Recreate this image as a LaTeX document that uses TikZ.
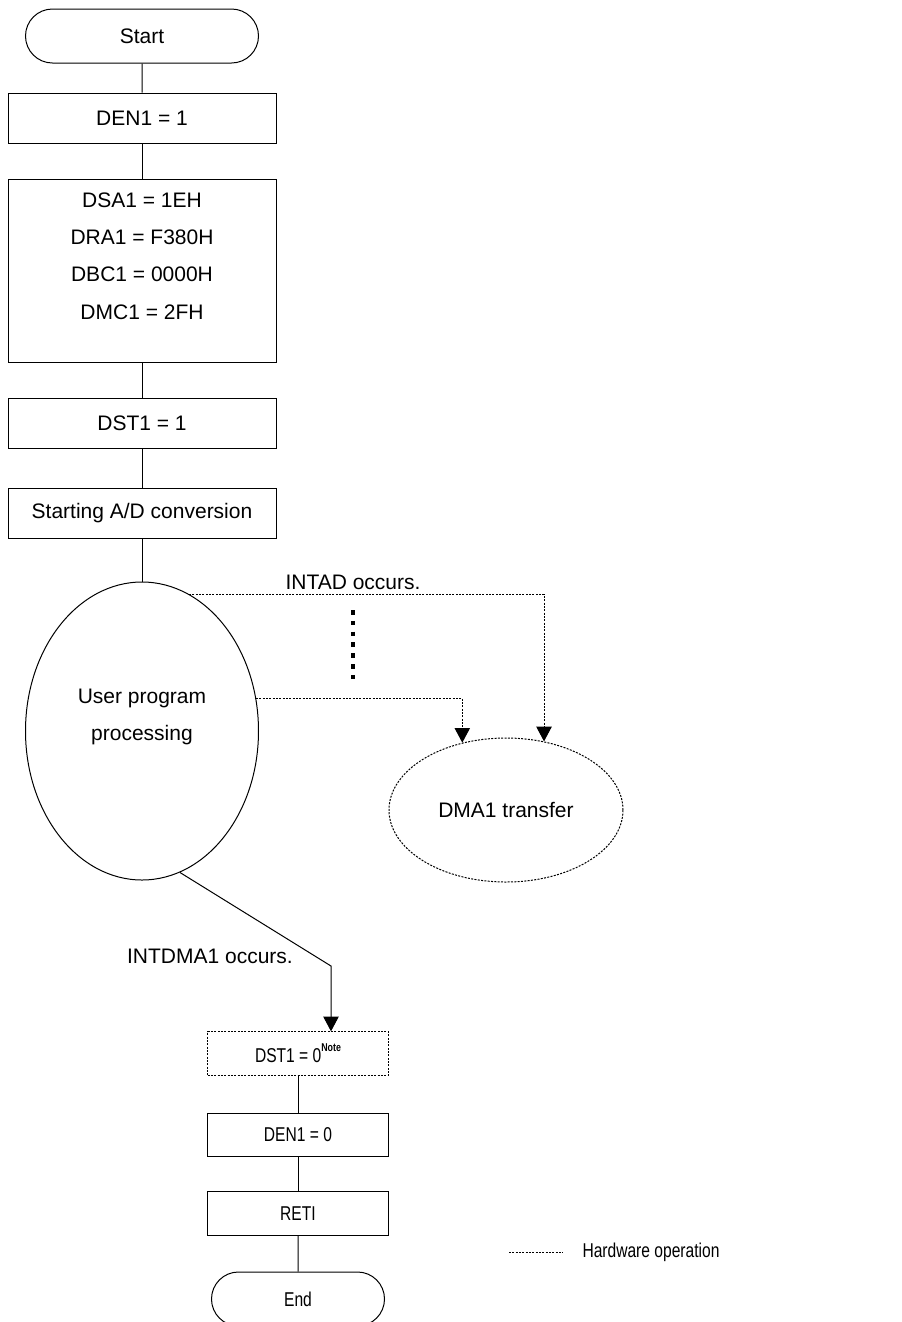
\documentclass[tikz,border=0pt]{standalone}
\usepackage{fontspec}
\setmainfont{Liberation Sans}
\newfontfamily\narrowfont[FakeStretch=0.78]{Liberation Sans}
\usetikzlibrary{shapes.geometric,shapes.misc,arrows.meta}

\begin{document}
\begin{tikzpicture}[x=0.75pt, y=-0.75pt, line width=0.75pt,
  every node/.style={font=\fontsize{15.75}{28}\selectfont, inner sep=0pt},
  term/.style={draw, rounded rectangle, minimum width=174.75pt, minimum height=40.5pt},
  box/.style={draw, rectangle, minimum width=201pt, minimum height=37.5pt},
  lowbox/.style={draw, rectangle, minimum width=135.75pt, minimum height=32.5pt, font=\narrowfont\fontsize{15}{18}\selectfont},
  hw/.style={dash pattern=on 1.5pt off 1pt},
  arr/.style={-{Triangle[width=11.5pt,length=11pt]}}]
  \useasboundingbox (0,0) rectangle (902,1322);
  \node[term] (start) at (142,36) {Start};
  \node[box] (den1) at (142,118) {DEN1 = 1};
  \node[box, minimum height=137.25pt] (regs) at (142,270.5) {};
  \node[anchor=north, align=center] at (142,192) {DSA1 = 1EH\\DRA1 = F380H\\DBC1 = 0000H\\DMC1 = 2FH};
  \node[box] (dst1) at (142,423.5) {DST1 = 1};
  \node[box] (adc) at (142,513) {Starting A/D conversion};
  \node[draw, ellipse, minimum width=174.75pt, minimum height=223.5pt] (user) at (142,731) {};
  \node[align=center] at (142,717) {User program\\processing};
  \node[draw, hw, ellipse, minimum width=175.5pt, minimum height=108pt] (dma) at (506,810) {DMA1 transfer};
  \node (intad) at (353,582) {INTAD occurs.};
  \node (intdma) at (210,956) {INTDMA1 occurs.};
  \node[lowbox, hw] (dst0) at (298,1053.5) {DST1 = 0\raisebox{8.25pt}{\fontsize{8.5}{10}\selectfont\bfseries Note}};
  \node[lowbox] (den0) at (298,1135) {DEN1 = 0};
  \node[lowbox] (reti) at (298,1213.5) {RETI};
  \node[term, minimum width=129.75pt, font=\narrowfont\fontsize{15}{18}\selectfont] (end) at (298,1299) {End};
  \node[anchor=west, font=\narrowfont\fontsize{15}{18}\selectfont] (legend) at (582,1252) {Hardware operation};
  \coordinate (bend) at (331,966);

  \draw (start) -- (den1);
  \draw (den1) -- (regs);
  \draw (regs) -- (dst1);
  \draw (dst1) -- (adc);
  \draw (adc) -- (user);
  \draw[hw, arr] (user.71) -| (dma.61);
  \draw[hw, arr] (user.16) -| (dma.123);
  \draw[line width=3.4pt, dash pattern=on 3.4pt off 4.7pt] (353,610) -- (353,680);
  \draw[arr] (user.-75) -- (bend) -- (bend |- dst0.north);
  \draw (dst0) -- (den0);
  \draw (den0) -- (reti);
  \draw (reti) -- (end);
  \draw[hw] ([xshift=-54.75pt]legend.west) -- ([xshift=-14.25pt]legend.west);
\end{tikzpicture}
\end{document}
